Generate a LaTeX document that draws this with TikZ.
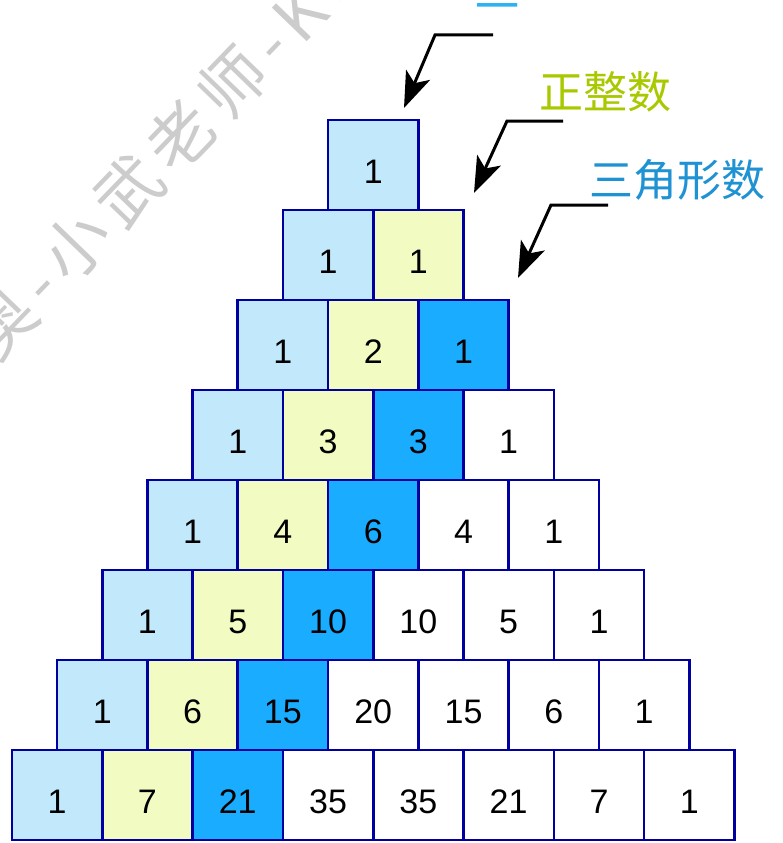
\documentclass[tikz,border=0pt]{standalone}
\usepackage{fontspec}
\setmainfont{Liberation Sans}
\newfontfamily\cjk{Noto Sans CJK SC}
\newfontfamily\wmfont[LetterSpace=14]{Noto Sans CJK SC}
\usetikzlibrary{arrows.meta}
\definecolor{lblue}{HTML}{C2E8FC}
\definecolor{lyel}{HTML}{F2FCC2}
\definecolor{dblue}{HTML}{1AADFF}
\definecolor{edgeblue}{HTML}{0000A0}
\definecolor{lblgreen}{HTML}{AAC800}
\definecolor{lbltri}{HTML}{1E92D2}
\definecolor{lblone}{HTML}{2CB2F2}
\definecolor{wmgray}{HTML}{CCCCCC}
\tikzset{
  cellbox/.style={draw=edgeblue, line width=2.6pt, minimum width=90.3pt, minimum height=90pt,
    inner sep=0pt, text height=36pt, text depth=0pt, font=\fontsize{34}{40}\selectfont},
  lbl/.style={inner sep=0pt, font=\cjk\fontsize{44}{50}\selectfont},
  wm/.style={inner sep=0pt, text=wmgray, rotate=46, font=\wmfont\fontsize{66}{70}\selectfont},
  arr/.style={line width=3pt, black, -{Stealth[length=36pt,width=26pt,inset=9pt]}}
}
\begin{document}
\begin{tikzpicture}[x=1pt,y=-1pt]
\useasboundingbox (0,0) rectangle (782,843);
% watermark
\coordinate (wmstart) at (-22,346);
\node[wm, anchor=west] (wmark) at (wmstart) {奥-小武老师-Ko};
% cells
\foreach \r/\vals in {1/{1},2/{1,1},3/{1,2,1},4/{1,3,3,1},5/{1,4,6,4,1},6/{1,5,10,10,5,1},7/{1,6,15,20,15,6,1},8/{1,7,21,35,35,21,7,1}}{
  \foreach \v [count=\c] in \vals {
    \def\cellfill{white}
    \ifnum\c=1 \def\cellfill{lblue}\fi
    \ifnum\c=2 \def\cellfill{lyel}\fi
    \ifnum\c=3 \def\cellfill{dblue}\fi
    \node[cellbox, fill=\cellfill] (cell-\r-\c) at ({12+(8-\r)*45.15+(\c-0.5)*90.3},{120+(\r-1)*90+45}) {\v};
  }
}
% labels
\node[lbl, text=lblone] (one) at (497,13) {一};
\node[lbl, text=lblgreen] (pos) at (605,92) {正整数};
\node[lbl, text=lbltri] (tri) at (677,180) {三角形数};
% arrows
\coordinate (a1s) at (493,35);
\coordinate (a1b) at (435,35);
\coordinate (a1t) at (404,108);
\coordinate (a2s) at (563,121);
\coordinate (a2b) at (507,121);
\coordinate (a2t) at (474,193);
\coordinate (a3s) at (608,205);
\coordinate (a3b) at (551,205);
\coordinate (a3t) at (518,278);
\draw[arr] (a1s) -- (a1b) -- (a1t);
\draw[arr] (a2s) -- (a2b) -- (a2t);
\draw[arr] (a3s) -- (a3b) -- (a3t);
\end{tikzpicture}
\end{document}
